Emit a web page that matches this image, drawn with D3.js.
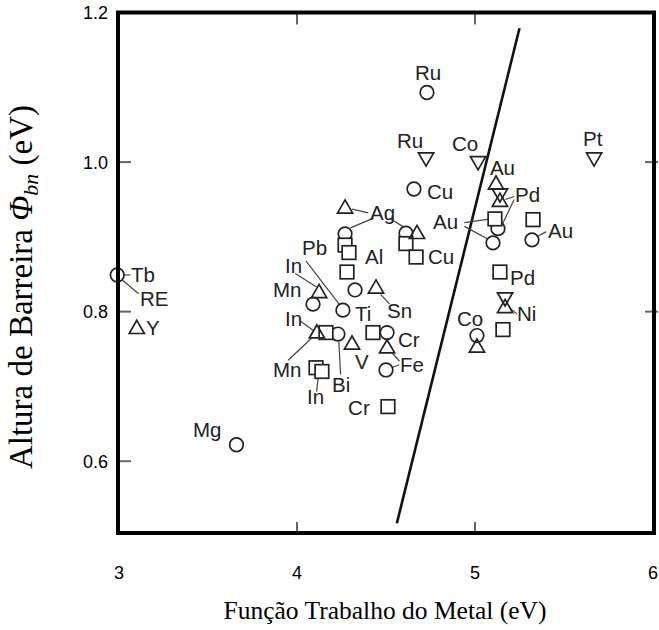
<!DOCTYPE html>
<html>
<head>
<meta charset="utf-8">
<script src="https://cdn.jsdelivr.net/npm/d3@7"></script>
<style>
  html, body { margin: 0; padding: 0; background: #fff; }
  svg { display: block; }
</style>
</head>
<body>
<svg id="chart" width="659" height="630"></svg>
<script>
// Schottky barrier height vs. metal work function, grouped by marker type.
// Each entry: [metal, work function (eV), barrier height (eV)]
const circles = [
  ["Tb", 2.99, 0.849],
  ["Mg", 3.66, 0.622],
  ["Ru", 4.73, 1.093],
  ["Cu", 4.657, 0.964],
  ["Ag", 4.27, 0.904],
  ["Ti", 4.258, 0.802],
  ["Mn", 4.09, 0.810],
  ["Bi", 4.23, 0.770],
  ["Sn", 4.326, 0.829],
  ["Cu", 4.612, 0.905],
  ["Cr", 4.506, 0.772],
  ["Fe", 4.50, 0.722],
  ["Au", 5.129, 0.911],
  ["Au", 5.101, 0.892],
  ["Au", 5.32, 0.896],
  ["Co", 5.011, 0.768]
];
const squares = [
  ["Ag", 4.27, 0.889],
  ["Al", 4.292, 0.879],
  ["Pb", 4.281, 0.853],
  ["Cu", 4.612, 0.891],
  ["Cu", 4.669, 0.873],
  ["In", 4.163, 0.772],
  ["Mn", 4.107, 0.725],
  ["Mn", 4.14, 0.720],
  ["Cr", 4.427, 0.772],
  ["Cr", 4.511, 0.673],
  ["Au", 5.112, 0.924],
  ["Au", 5.326, 0.923],
  ["Pd", 5.14, 0.853],
  ["Ni", 5.157, 0.776]
];
const trianglesUp = [
  ["Y", 3.10, 0.778],
  ["Ag", 4.27, 0.939],
  ["In", 4.124, 0.826],
  ["In", 4.112, 0.772],
  ["Sn", 4.444, 0.832],
  ["V", 4.309, 0.757],
  ["Fe", 4.506, 0.752],
  ["Cu", 4.674, 0.905],
  ["Au", 5.118, 0.971],
  ["Pd", 5.14, 0.948],
  ["Ni", 5.169, 0.806],
  ["Co", 5.011, 0.753]
];
const trianglesDown = [
  ["Ru", 4.725, 1.005],
  ["Co", 5.017, 1.000],
  ["Pt", 5.669, 1.005],
  ["Pd", 5.14, 0.957],
  ["Ni", 5.169, 0.818]
];

// Element labels placed in data units: [text, work function, barrier height]
const labels = [
  ["Tb", 3.067, 0.849], ["RE", 3.118, 0.818], ["Y", 3.152, 0.778],
  ["Mg", 3.416, 0.642],
  ["Ru", 4.663, 1.12], ["Ru", 4.562, 1.029], ["Co", 4.871, 1.025],
  ["Au", 5.084, 0.992], ["Pt", 5.607, 1.031], ["Cu", 4.73, 0.96],
  ["Pd", 5.225, 0.956], ["Ag", 4.41, 0.933], ["Au", 4.764, 0.92],
  ["Au", 5.41, 0.909], ["Pb", 4.028, 0.885], ["Al", 4.382, 0.874],
  ["Cu", 4.736, 0.874], ["In", 3.933, 0.861], ["Mn", 3.865, 0.830],
  ["Ti", 4.326, 0.798], ["Sn", 4.506, 0.802], ["Pd", 5.197, 0.845],
  ["Ni", 5.236, 0.798], ["Co", 4.899, 0.791], ["In", 3.933, 0.791],
  ["Cr", 4.567, 0.762], ["V", 4.326, 0.733], ["Fe", 4.579, 0.729],
  ["Mn", 3.865, 0.722], ["Bi", 4.197, 0.703], ["In", 4.056, 0.687],
  ["Cr", 4.287, 0.671]
];

// Leader lines from labels to their markers: [x1, y1, x2, y2] in data units
const leaders = [
  [3.028, 0.849, 3.064, 0.849],
  [3.02, 0.842, 3.11, 0.824],
  [4.31, 0.937, 4.40, 0.932],
  [4.30, 0.912, 4.43, 0.925],
  [4.52, 0.925, 4.60, 0.913],
  [4.05, 0.868, 4.24, 0.809],
  [3.99, 0.851, 4.11, 0.833],
  [4.47, 0.823, 4.52, 0.810],
  [4.02, 0.787, 4.09, 0.775],
  [3.95, 0.735, 4.08, 0.764],
  [4.235, 0.760, 4.245, 0.716],
  [4.11, 0.693, 4.12, 0.714],
  [4.53, 0.746, 4.575, 0.734],
  [4.52, 0.724, 4.575, 0.729],
  [4.94, 0.919, 5.09, 0.924],
  [4.94, 0.914, 5.08, 0.896],
  [5.22, 0.954, 5.17, 0.950],
  [5.22, 0.950, 5.15, 0.915],
  [5.34, 0.899, 5.40, 0.907],
  [5.19, 0.806, 5.235, 0.797]
];

// Least-squares trend through the data
const trend = [[4.561, 0.517], [5.25, 1.179]];

const xTicks = [3, 4, 5, 6];
const yTicks = [0.6, 0.8, 1.0, 1.2];

const svg = d3.select("#chart");
const x = d3.scaleLinear().domain([3, 6]).range([119, 653]);
const y = d3.scaleLinear().domain([0.504, 1.2]).range([533, 12.5]);

const ink = "#222";

// inner tick marks
const tickG = svg.append("g").attr("stroke", "#666").attr("stroke-width", 2);
[4, 5].forEach(v => {
  tickG.append("line").attr("x1", x(v)).attr("x2", x(v)).attr("y1", y.range()[0]).attr("y2", y.range()[0] - 11);
  tickG.append("line").attr("x1", x(v)).attr("x2", x(v)).attr("y1", y.range()[1]).attr("y2", y.range()[1] + 12);
});
[0.6, 0.8, 1.0].forEach(v => {
  tickG.append("line").attr("x1", x.range()[0]).attr("x2", x.range()[0] + 12).attr("y1", y(v)).attr("y2", y(v));
});
[0.8, 1.0].forEach(v => {
  tickG.append("line").attr("x1", x.range()[1] - 8).attr("x2", x.range()[1] + 5).attr("y1", y(v)).attr("y2", y(v));
});

// trend line
svg.append("line")
  .attr("x1", x(trend[0][0])).attr("y1", y(trend[0][1]))
  .attr("x2", x(trend[1][0])).attr("y2", y(trend[1][1]))
  .attr("stroke", "#111").attr("stroke-width", 2.6);

// leader lines
svg.append("g").selectAll("line").data(leaders).join("line")
  .attr("x1", d => x(d[0])).attr("y1", d => y(d[1]))
  .attr("x2", d => x(d[2])).attr("y2", d => y(d[3]))
  .attr("stroke", "#444").attr("stroke-width", 1.2);

// markers
const markG = svg.append("g").attr("fill", "none").attr("stroke", ink).attr("stroke-width", 1.7);
markG.selectAll("circle").data(circles).join("circle")
  .attr("cx", d => x(d[1])).attr("cy", d => y(d[2])).attr("r", 6.8)
  .attr("fill", "#fff");
markG.selectAll("rect").data(squares).join("rect")
  .attr("x", d => x(d[1]) - 6.8).attr("y", d => y(d[2]) - 6.8)
  .attr("width", 13.6).attr("height", 13.6).attr("fill", "#fff");
const tri = d3.symbol().type(d3.symbolTriangle).size(100);
markG.selectAll("path.up").data(trianglesUp).join("path").attr("class", "up")
  .attr("transform", d => `translate(${x(d[1])},${y(d[2]) + 1})`)
  .attr("d", tri).attr("fill", "none");
markG.selectAll("path.down").data(trianglesDown).join("path").attr("class", "down")
  .attr("transform", d => `translate(${x(d[1])},${y(d[2]) - 1}) rotate(180)`)
  .attr("d", tri).attr("fill", "none");

// element labels
svg.append("g").selectAll("text").data(labels).join("text")
  .attr("x", d => x(d[1])).attr("y", d => y(d[2]))
  .attr("dy", "0.36em")
  .attr("font-family", "Liberation Sans, Arial, sans-serif")
  .attr("font-size", 20.5).attr("fill", "#222")
  .text(d => d[0]);

// frame
svg.append("rect")
  .attr("x", x.range()[0] - 1).attr("y", y.range()[1])
  .attr("width", x.range()[1] - x.range()[0] + 2)
  .attr("height", y.range()[0] - y.range()[1])
  .attr("fill", "none").attr("stroke", "#000").attr("stroke-width", 4);

// tick labels
svg.append("g").selectAll("text").data(xTicks).join("text")
  .attr("x", d => x(d)).attr("y", 579)
  .attr("text-anchor", "middle")
  .attr("font-family", "Liberation Sans, Arial, sans-serif").attr("font-size", 18)
  .text(d => d3.format("d")(d));
svg.append("g").selectAll("text").data(yTicks).join("text")
  .attr("x", 108).attr("y", d => y(d)).attr("dy", "0.36em")
  .attr("text-anchor", "end")
  .attr("font-family", "Liberation Sans, Arial, sans-serif").attr("font-size", 18)
  .text(d => d3.format(".1f")(d));

// axis titles
svg.append("text")
  .attr("x", 385).attr("y", 619).attr("text-anchor", "middle")
  .attr("font-family", "Liberation Serif, Times New Roman, serif").attr("font-size", 25.5)
  .text("Função Trabalho do Metal (eV)");

const yt = svg.append("text")
  .attr("transform", "translate(32,287) rotate(-90)")
  .attr("text-anchor", "middle")
  .attr("font-family", "Liberation Serif, Times New Roman, serif").attr("font-size", 33);
yt.append("tspan").text("Altura de Barreira ");
yt.append("tspan").attr("font-style", "italic").text("Φ");
yt.append("tspan").attr("font-style", "italic").attr("font-size", 22).attr("dy", 6).text("bn");
yt.append("tspan").attr("dy", -6).text(" (eV)");
</script>
</body>
</html>
